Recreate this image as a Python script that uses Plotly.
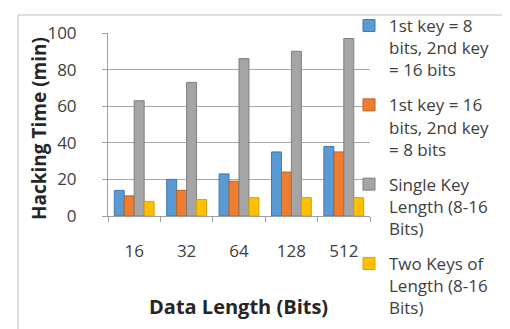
import plotly.graph_objects as go

categories = ["16", "32", "64", "128", "512"]
series_names = [
    "1st key = 8<br>bits, 2nd key<br>= 16 bits",
    "1st key = 16<br>bits, 2nd key<br>= 8 bits",
    "Single Key<br>Length (8-16<br>Bits)",
    "Two Keys of<br>Length (8-16<br>Bits)",
]
blue_vals = [14, 20, 23, 35, 38]
orange_vals = [11, 14, 19, 24, 35]
gray_vals = [63, 73, 86, 90, 97]
yellow_vals = [8, 9, 10, 10, 10]
y_ticks = [0, 20, 40, 60, 80, 100]

colors = ["#5B9BD5", "#ED7D31", "#A5A5A5", "#FFC000"]
edges = ["#3F78B0", "#C0601C", "#7F7F7F", "#D9A000"]
all_vals = [blue_vals, orange_vals, gray_vals, yellow_vals]

FONT = "Open Sans"

fig = go.Figure()
for i, (name, vals) in enumerate(zip(series_names, all_vals)):
    fig.add_trace(go.Bar(
        x=categories, y=vals, name=name, legendgroup=f"g{i}",
        marker=dict(color=colors[i], line=dict(color=edges[i], width=1)),
    ))

L, R, T, B = 100, 362, 25, 208
W, H = 510, 329

def px_x(p):
    return (p - L) / (R - L)

def px_y(p):
    return (B - p) / (B - T)

fig.update_layout(
    width=W, height=H,
    margin=dict(l=L, r=W - R, t=T, b=H - B, autoexpand=False),
    paper_bgcolor="white", plot_bgcolor="white",
    barmode="group", bargap=0.24, bargroupgap=0.0,
    font=dict(family=FONT, color="#404040", size=15),
    showlegend=True,
    legend=dict(
        x=341 / W, xref="container", y=1.0, yref="container",
        xanchor="left", yanchor="top", valign="top",
        font=dict(family=FONT, size=17, color="#404040"),
        tracegroupgap=10, itemwidth=30, bgcolor="rgba(0,0,0,0)",
        maxheight=1.0,
    ),
    xaxis=dict(
        type="category", showgrid=False, showline=True, linecolor="#A0A0A0",
        ticks="outside", tickson="boundaries", ticklen=5, tickcolor="#A0A0A0",
        tickfont=dict(family=FONT, size=17, color="#404040"),
        ticklabelstandoff=20,
    ),
    yaxis=dict(
        range=[0, 100], tickvals=y_ticks, showgrid=True, gridcolor="#A8A8A8",
        gridwidth=1, showline=True, linecolor="#A0A0A0", zeroline=False,
        ticks="outside", ticklen=5, tickcolor="#A0A0A0",
        tickfont=dict(family=FONT, size=17, color="#404040"),
        ticklabelstandoff=22,
    ),
    annotations=[
        dict(text="<b>Data Length (Bits)</b>", xref="paper", yref="paper",
             x=px_x(230), y=px_y(298), xanchor="center", yanchor="middle",
             showarrow=False, font=dict(family=FONT, size=20, color="#262626")),
        dict(text="<b>Hacking Time (min)</b>", xref="paper", yref="paper",
             x=px_x(31), y=px_y(121), xanchor="center", yanchor="middle",
             showarrow=False, textangle=-90,
             font=dict(family=FONT, size=19, color="#262626")),
    ],
    shapes=[
        dict(type="rect", xref="paper", yref="paper",
             x0=px_x(10), x1=px_x(516), y0=px_y(326), y1=px_y(7),
             line=dict(color="#BFBFBF", width=1), layer="below"),
    ],
)

fig.write_html("out.html")
